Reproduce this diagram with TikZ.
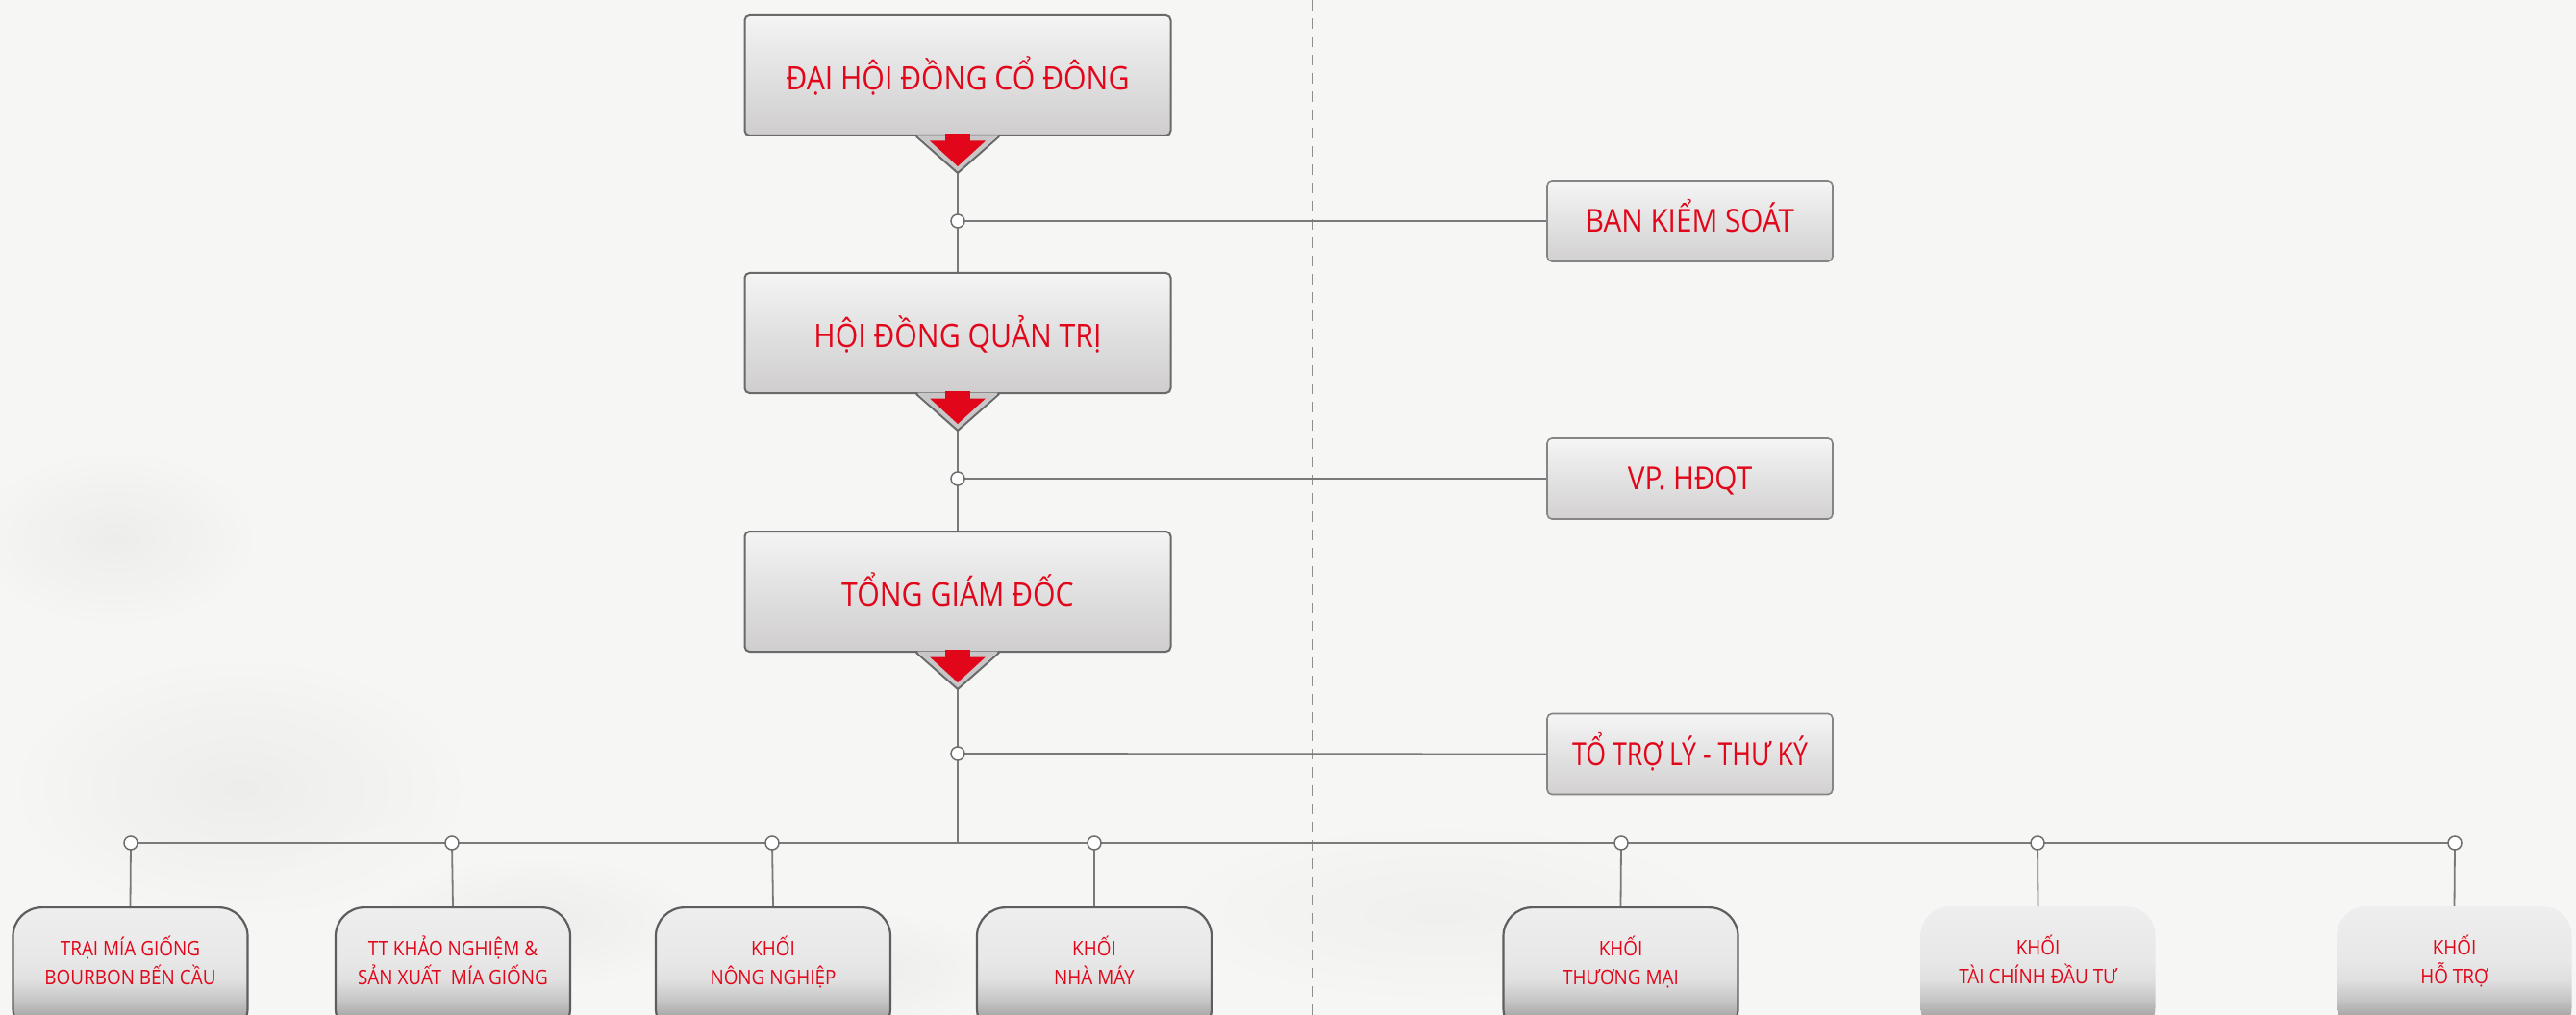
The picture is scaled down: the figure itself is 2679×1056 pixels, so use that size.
\documentclass[tikz,border=0pt]{standalone}
\usepackage{fontspec}
\setmainfont{Open Sans}[FakeStretch=0.9]
\usetikzlibrary{calc}
\definecolor{bgc}{HTML}{F6F6F5}
\definecolor{blob}{HTML}{E3E3E1}
\definecolor{txtred}{HTML}{E2061A}
\definecolor{linegray}{HTML}{7A7A7A}
\definecolor{circgray}{HTML}{6E6E6E}
\definecolor{edgegray}{HTML}{6A6A6A}
\definecolor{sidegray}{HTML}{858585}
\definecolor{unitgray}{HTML}{5E5E5E}
\definecolor{dashgray}{HTML}{8E8E8E}
\definecolor{tbtop}{HTML}{F4F4F4}
\definecolor{tbbot}{HTML}{CFCDCE}
\definecolor{sbtop}{HTML}{F5F5F5}
\definecolor{sbbot}{HTML}{D2D0D1}
\definecolor{notchfill}{HTML}{C8C6C7}
\definecolor{ubot}{HTML}{989696}
\definecolor{uA}{HTML}{A8A6A6}
\definecolor{uB}{HTML}{C6C5C5}
\definecolor{uC}{HTML}{E0E0E0}
\definecolor{uD}{HTML}{E8E8E8}
\definecolor{utop}{HTML}{EEEEEE}
\pgfdeclareverticalshading{unitshade}{100bp}{color(0bp)=(ubot); color(25bp)=(ubot); color(33bp)=(uA); color(39bp)=(uB); color(47bp)=(uC); color(55bp)=(uD); color(75bp)=(utop); color(100bp)=(utop)}
\pgfdeclareradialshading{blobshade}{\pgfpoint{0bp}{0bp}}{color(0bp)=(blob); color(14bp)=(bgc); color(50bp)=(bgc)}
\pgfdeclarelayer{bg}
\pgfdeclarelayer{lines}
\pgfsetlayers{bg,lines,main}
\newcommand{\mkNotch}[1]{%
  \fill[notchfill] ($(#1.south)+(-42,-1.5)$) -- ($(#1.south)+(0,38)$) -- ($(#1.south)+(42,-1.5)$) -- cycle;
  \draw[draw=edgegray,line width=2pt,line join=round,line cap=round] ($(#1.south)+(-43,0)$) -- ($(#1.south)+(0,38)$) -- ($(#1.south)+(43,0)$);
  \fill[txtred] ($(#1.south)+(-13,-3)$) rectangle ($(#1.south)+(13,5)$);
  \fill[txtred] ($(#1.south)+(-29,4.5)$) -- ($(#1.south)+(29,4.5)$) -- ($(#1.south)+(0,31)$) -- cycle;
  \coordinate (#1-tip) at ($(#1.south)+(0,38)$);}
\begin{document}
\begin{tikzpicture}[x=1pt,y=-1pt,
  conn/.style={draw=linegray,line width=1.8pt},
  jn/.style={circle,draw=circgray,fill=white,line width=1.5pt,minimum size=14pt,inner sep=0pt},
  topbox/.style={rectangle,rounded corners=5pt,draw=edgegray,line width=2pt,top color=tbtop,bottom color=tbbot,minimum width=443pt,minimum height=125pt,inner sep=0pt,text=txtred,font=\fontsize{33.6}{40}\selectfont,text height=30pt,text depth=0pt},
  sidebox/.style={rectangle,rounded corners=5pt,draw=sidegray,line width=1.6pt,top color=sbtop,bottom color=sbbot,minimum width=297pt,minimum height=84pt,inner sep=0pt,text=txtred,font=\fontsize{33}{38}\selectfont,text height=23.5pt,text depth=0pt},
  unitbox/.style={rectangle,rounded corners=30pt,shade,shading=unitshade,minimum width=244pt,minimum height=135pt,inner sep=0pt,anchor=north,text=txtred,align=center,font=\fontsize{21}{30}\selectfont,text height=45pt,text depth=20pt},
  unitedge/.style={unitbox,draw=unitgray,line width=2.2pt},
  blobby/.style={shading=blobshade,opacity=0.45},
]
\useasboundingbox (0,0) rectangle (2679,1056);
\begin{pgfonlayer}{bg}
\begin{scope}
\clip (0,0) rectangle (2679,1056);
\fill[bgc] (0,0) rectangle (2679,1056);
\shade[blobby] (250,820) ellipse (420pt and 240pt);
\shade[blobby] (120,560) ellipse (260pt and 160pt);
\shade[blobby] (900,1010) ellipse (260pt and 110pt);
\shade[blobby] (560,960) ellipse (300pt and 120pt);
\shade[blobby,opacity=0.3] (1500,950) ellipse (500pt and 160pt);
\end{scope}
\end{pgfonlayer}
\clip (0,0) rectangle (2679,1056);

% main chain
\node[topbox] (dh) at (996,78.5) {ĐẠI HỘI ĐỒNG CỔ ĐÔNG};
\mkNotch{dh}
\node[topbox] (hd) at (996,346.5) {HỘI ĐỒNG QUẢN TRỊ};
\mkNotch{hd}
\node[topbox] (tg) at (996,615.5) {TỔNG GIÁM ĐỐC};
\mkNotch{tg}

% side boxes
\node[sidebox] (bks) at (1757.5,230) {BAN KIỂM SOÁT};
\node[sidebox] (vp) at (1757.5,498) {VP. HĐQT};
\node[sidebox] (tl) at (1757.5,784.5) {\scalebox{0.9}[1]{TỔ TRỢ LÝ - THƯ KÝ}};

% junctions
\node[jn] (j1) at (996,230) {};
\node[jn] (j2) at (996,498) {};
\node[jn] (j3) at (996,784) {};
\coordinate (bus) at (996,877);

% units
\node[unitedge] (u1) at (135.5,943) {TRẠI MÍA GIỐNG\\BOURBON BẾN CẦU};
\node[unitedge] (u2) at (471,943) {TT KHẢO NGHIỆM \&\\SẢN XUẤT~ MÍA GIỐNG};
\node[unitedge] (u3) at (804,943) {KHỐI\\NÔNG NGHIỆP};
\node[unitedge] (u4) at (1138,943) {KHỐI\\NHÀ MÁY};
\node[unitedge] (u5) at (1685.5,943) {KHỐI\\THƯƠNG MẠI};
\node[unitbox] (u6) at (2119.5,943) {KHỐI\\TÀI CHÍNH ĐẦU TƯ};
\node[unitbox] (u7) at (2552.5,943) {KHỐI\\HỖ TRỢ};

\foreach \i/\x in {1/136,2/470,3/803,4/1138,5/1686,6/2119,7/2553}{
  \node[jn] (k\i) at (\x,877) {};
}

\begin{pgfonlayer}{lines}
\draw[draw=dashgray,line width=2.4pt,dash pattern=on 11pt off 8pt] (1365,0) -- (1365,1056);
\draw[conn] (dh-tip) -- (j1.center) -- (hd.north);
\draw[conn] (j1.center) -- (bks.west);
\draw[conn] (hd-tip) -- (j2.center) -- (tg.north);
\draw[conn] (j2.center) -- (vp.west);
\draw[conn] (tg-tip) -- (j3.center) -- (bus);
\draw[conn] (j3.center) -- (tl.west);
\draw[conn] (k1.center) -- (k7.center);
\foreach \i in {1,...,7}{
  \draw[conn] (k\i.center) -- (u\i.north);
}
\end{pgfonlayer}
\end{tikzpicture}
\end{document}
